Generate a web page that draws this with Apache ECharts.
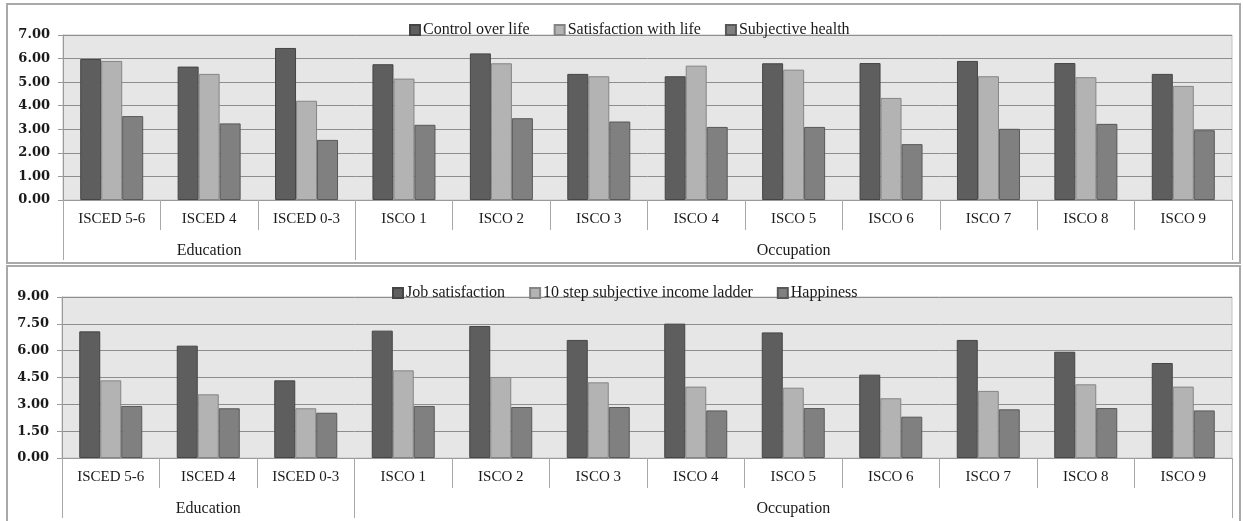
<!DOCTYPE html>
<html>
<head>
<meta charset="utf-8">
<script src="https://cdn.jsdelivr.net/npm/echarts@6/dist/echarts.min.js"></script>
<style>
  html, body { margin: 0; padding: 0; background: #fff; }
  #chart { width: 1243px; height: 521px; }
</style>
</head>
<body>
<div id="chart"></div>
<script>
// categories + group labels (group label sits on the middle category of its span)
const categories = ['ISCED 5-6', 'ISCED 4', 'ISCED 0-3', 'ISCO 1', 'ISCO 2', 'ISCO 3', 'ISCO 4', 'ISCO 5', 'ISCO 6', 'ISCO 7', 'ISCO 8', 'ISCO 9']
const groupLabels = ['', 'Education', '', '', '', '', '', 'Occupation', '', '', '', '']
const groupBounds = [0, 3]   // first category index of each group

// top panel
const controlOverLife = [5.98, 5.66, 6.45, 5.76, 6.22, 5.35, 5.25, 5.80, 5.81, 5.90, 5.81, 5.35]
const satisfactionWithLife = [5.90, 5.35, 4.21, 5.15, 5.80, 5.25, 5.70, 5.53, 4.33, 5.25, 5.21, 4.84]
const subjectiveHealth = [3.56, 3.25, 2.55, 3.19, 3.47, 3.33, 3.10, 3.10, 2.37, 3.02, 3.23, 2.96]

// bottom panel
const jobSatisfaction = [7.08, 6.28, 4.34, 7.12, 7.38, 6.60, 7.51, 7.02, 4.66, 6.60, 5.94, 5.31]
const incomeLadder = [4.34, 3.56, 2.78, 4.90, 4.53, 4.23, 3.99, 3.93, 3.34, 3.75, 4.12, 3.99]
const happiness = [2.91, 2.78, 2.53, 2.91, 2.85, 2.85, 2.66, 2.79, 2.31, 2.72, 2.79, 2.66]

const topTicks = { min: 0, max: 7, interval: 1 }
const bottomTicks = { min: 0, max: 9, interval: 1.5 }

const font = 'Liberation Serif'
const ink = '#1a1a1a'
const colors = ['#5e5e5e', '#b3b3b3', '#808080']
const edges = ['#454545', '#858585', '#585858']

const el = document.getElementById('chart')
const chart = echarts.init(el, null, { renderer: 'canvas' })

function catAxes (gridIndex) {
  return [
    {
      type: 'category', gridIndex, data: categories, position: 'bottom',
      axisLine: { show: true, lineStyle: { color: '#9a9a9a' } },
      axisTick: { show: true, interval: 0, length: 30, lineStyle: { color: '#a8a8a8' } },
      axisLabel: { interval: 0, margin: 12, color: ink, fontFamily: font, fontSize: 15 },
      splitLine: { show: false },
    },
    {
      type: 'category', gridIndex, data: groupLabels, position: 'bottom',
      axisLine: { show: false },
      axisTick: { show: true, length: 60, interval: (i) => groupBounds.includes(i), lineStyle: { color: '#a8a8a8' } },
      axisLabel: { interval: 0, margin: 43, color: ink, fontFamily: font, fontSize: 16 },
      splitLine: { show: false },
    },
  ]
}

function valAxis (gridIndex, t) {
  return {
    type: 'value', gridIndex, min: t.min, max: t.max, interval: t.interval,
    axisLine: { show: true, lineStyle: { color: '#9a9a9a' } },
    axisTick: { show: true, length: 5, lineStyle: { color: '#9a9a9a' } },
    axisLabel: { color: ink, fontFamily: 'DejaVu Serif', fontSize: 13, fontWeight: 'bold', margin: 13, formatter: v => v.toFixed(2) },
    splitLine: { lineStyle: { color: '#8e8e8e', width: 1 } },
  }
}

function bars (name, data, i, axisIdx) {
  return {
    name, type: 'bar', data, xAxisIndex: axisIdx, yAxisIndex: axisIdx / 2,
    barWidth: 21, barGap: '0%',
    itemStyle: { color: colors[i], borderColor: edges[i], borderWidth: 1 },
    emphasis: { disabled: true },
  }
}

const legendBase = {
  itemWidth: 10, itemHeight: 10, itemGap: 24, icon: 'rect',
  textStyle: { color: ink, fontFamily: font, fontSize: 16, padding: [0, 0, 0, -2] },
}

chart.setOption({
  animation: false,
  backgroundColor: '#fff',
  color: colors,
  graphic: [
    { type: 'rect', shape: { x: 7, y: 4, width: 1233, height: 259 }, style: { fill: 'none', stroke: '#a9a9a9', lineWidth: 2 }, silent: true },
    { type: 'rect', shape: { x: 7, y: 266, width: 1233, height: 262 }, style: { fill: 'none', stroke: '#a9a9a9', lineWidth: 2 }, silent: true },
  ],
  legend: [
    Object.assign({}, legendBase, { left: 404, top: 17, data: ['Control over life', 'Satisfaction with life', 'Subjective health'] }),
    Object.assign({}, legendBase, { left: 387, top: 280, data: ['Job satisfaction', '10 step subjective income ladder', 'Happiness'] }),
  ],
  grid: [
    { left: 63, right: 11, top: 35, height: 165, show: true, backgroundColor: '#e6e6e6', borderColor: '#c4c4c4', borderWidth: 1 },
    { left: 62, right: 11, top: 297, height: 161, show: true, backgroundColor: '#e6e6e6', borderColor: '#c4c4c4', borderWidth: 1 },
  ],
  xAxis: [...catAxes(0), ...catAxes(1)],
  yAxis: [valAxis(0, topTicks), valAxis(1, bottomTicks)],
  series: [
    bars('Control over life', controlOverLife, 0, 0),
    bars('Satisfaction with life', satisfactionWithLife, 1, 0),
    bars('Subjective health', subjectiveHealth, 2, 0),
    bars('Job satisfaction', jobSatisfaction, 0, 2),
    bars('10 step subjective income ladder', incomeLadder, 1, 2),
    bars('Happiness', happiness, 2, 2),
  ],
})

window.addEventListener('resize', () => chart.resize())
</script>
</body>
</html>
